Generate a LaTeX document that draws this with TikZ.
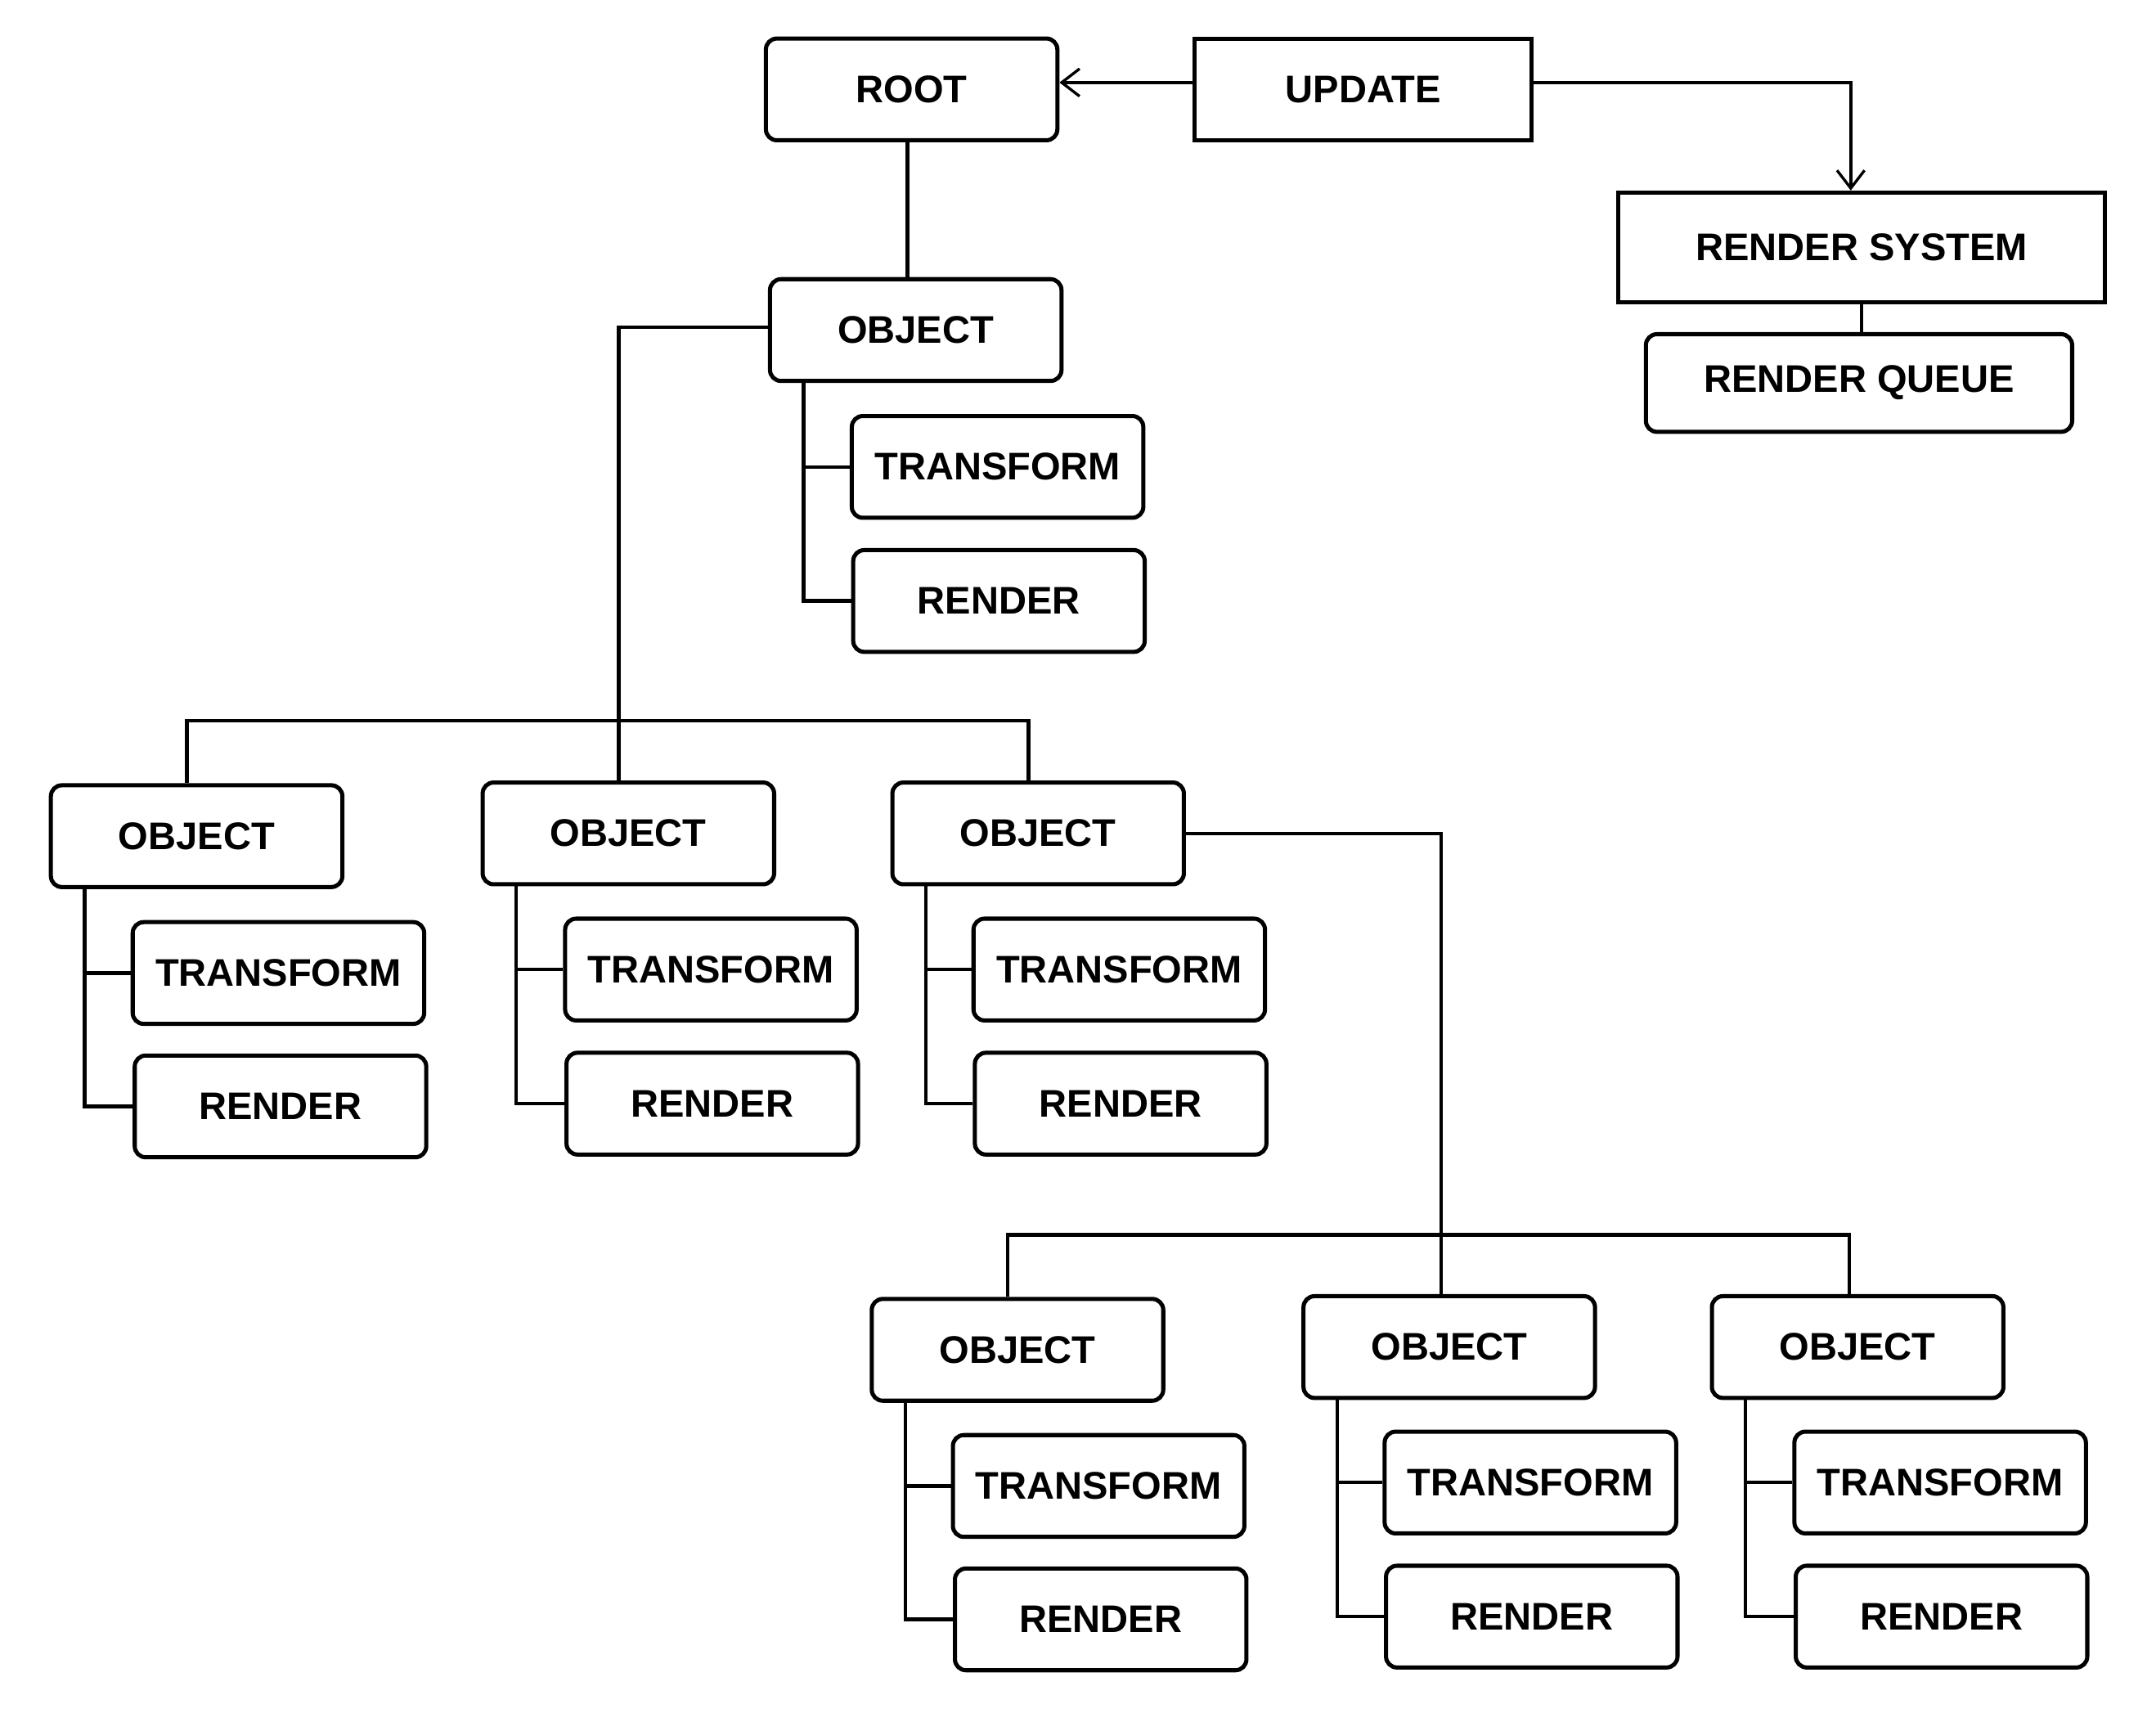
\documentclass[tikz,border=0pt]{standalone}
\usepackage{fontspec}
\setmainfont{Liberation Sans}
\usetikzlibrary{arrows.meta}
\begin{document}
\begin{tikzpicture}[x=1pt,y=-1pt,
  base/.style={draw=black, line width=3pt, minimum width=212pt, minimum height=74pt, inner sep=0pt,
    font=\fontsize{28}{30}\selectfont\bfseries},
  rbox/.style={base, rounded corners=8pt},
  sbox/.style={base},
  conn/.style={line width=2.6pt},
  arr/.style={line width=2.4pt, -{Straight Barb[length=13pt,width=20pt,line width=2pt]}}]
\useasboundingbox (0,0) rectangle (1568,1252);
% top
\node[rbox] (root) at (663,65) {ROOT};
\node[sbox, minimum width=245pt] (upd) at (991.5,65) {UPDATE};
\node[sbox, minimum width=354pt, minimum height=80pt] (rs) at (1354,180) {RENDER SYSTEM};
\node[rbox, minimum width=310pt, minimum height=71pt] (rq) at (1352,278.5) {RENDER QUEUE};
% object 1
\node[rbox] (o1) at (666,240) {OBJECT};
\node[rbox] (t1) at (725.5,339.5) {TRANSFORM};
\node[rbox] (r1) at (726.5,437) {RENDER};
% row 2
\node[rbox] (oa) at (143,608) {OBJECT};
\node[rbox] (ta) at (202.5,707.5) {TRANSFORM};
\node[rbox] (ra) at (204,804.5) {RENDER};
\node[rbox] (ob) at (457,606) {OBJECT};
\node[rbox] (tb) at (517,705) {TRANSFORM};
\node[rbox] (rb) at (518,802.5) {RENDER};
\node[rbox] (oc) at (755,606) {OBJECT};
\node[rbox] (tc) at (814,705) {TRANSFORM};
\node[rbox] (rc) at (815,802.5) {RENDER};
% row 3
\node[rbox] (od) at (740,981.5) {OBJECT};
\node[rbox] (td) at (799,1080.5) {TRANSFORM};
\node[rbox] (rd) at (800.5,1177.5) {RENDER};
\node[rbox] (oe) at (1054,979.5) {OBJECT};
\node[rbox] (te) at (1113,1078) {TRANSFORM};
\node[rbox] (re) at (1114,1175.5) {RENDER};
\node[rbox] (of) at (1351,979.5) {OBJECT};
\node[rbox] (tf) at (1411,1078) {TRANSFORM};
\node[rbox] (rf) at (1412,1175.5) {RENDER};
% arrows from update
\draw[arr] ([yshift=5pt]upd.west) -- ([yshift=5pt]upd.west -| root.east);
\draw[arr] ([yshift=5pt]upd.east) -| ([xshift=-8pt]rs.north);
\draw[conn] (rs.south) -- (rs.south |- rq.north);
% root to object 1
\draw[conn] ([xshift=-3pt]root.south) -- ([xshift=-3pt]root.south |- o1.north);
% brackets
\foreach \o/\t/\r in {o1/t1/r1, oa/ta/ra, ob/tb/rb, oc/tc/rc, od/td/rd, oe/te/re, of/tf/rf}{
  \draw[conn] ([xshift=26pt]\o.south west) |- (\t.west);
  \draw[conn] ([xshift=26pt]\o.south west) |- (\r.west);
}
% object 1 to row 2
\coordinate (busA) at (0,524);
\draw[conn] ([yshift=2pt]o1.west) -| ([xshift=-7pt]ob.north);
\draw[conn] ([xshift=-7pt]oa.north) -- ([xshift=-7pt]oa.north |- busA)
  -- ([xshift=-7pt]oc.north |- busA) -- ([xshift=-7pt]oc.north);
% object C to row 3
\coordinate (busB) at (0,898);
\draw[conn] (oc.east) -| ([xshift=-6pt]oe.north);
\draw[conn] ([xshift=-7pt]od.north) -- ([xshift=-7pt]od.north |- busB)
  -- ([xshift=-6pt]of.north |- busB) -- ([xshift=-6pt]of.north);
\end{tikzpicture}
\end{document}
